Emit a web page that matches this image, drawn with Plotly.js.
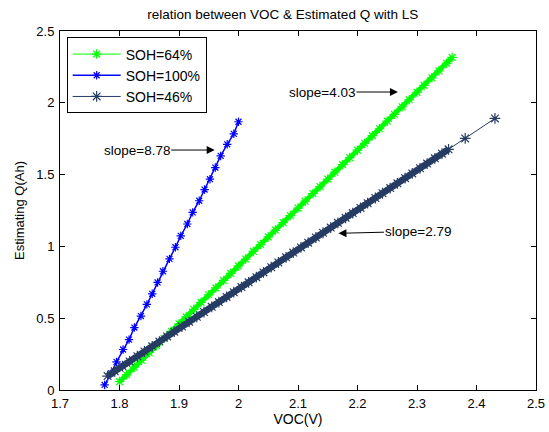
<!DOCTYPE html>
<html>
<head>
<meta charset="utf-8">
<script src="https://cdn.plot.ly/plotly-3.0.1.min.js"></script>
<style>html,body{margin:0;padding:0;background:#fff;}#chart{width:549px;height:432px;}</style>
</head>
<body>
<div id="chart"></div>
<script>
// SOH=64% (green)
const voc64 = [1.800,1.812,1.825,1.837,1.850,1.862,1.875,1.887,1.900,1.912,1.925,1.937,1.950,1.962,1.975,1.987,2.000,2.012,2.025,2.037,2.050,2.062,2.075,2.087,2.100,2.112,2.125,2.137,2.150,2.162,2.175,2.187,2.200,2.212,2.225,2.237,2.250,2.262,2.275,2.287,2.300,2.312,2.325,2.337,2.350,2.359];
const q64   = [0.058,0.106,0.159,0.207,0.260,0.308,0.360,0.409,0.461,0.509,0.562,0.610,0.663,0.711,0.763,0.812,0.864,0.912,0.965,1.013,1.066,1.114,1.166,1.215,1.267,1.315,1.368,1.416,1.469,1.517,1.569,1.618,1.670,1.718,1.771,1.819,1.872,1.920,1.972,2.021,2.073,2.121,2.174,2.222,2.275,2.316];
// SOH=100% (blue)
const voc100 = [1.775,1.786,1.795,1.806,1.816,1.825,1.836,1.846,1.855,1.864,1.873,1.884,1.894,1.903,1.914,1.923,1.934,1.943,1.952,1.961,1.970,1.981,1.992,2.000];
const q100   = [0.035,0.116,0.196,0.282,0.351,0.435,0.515,0.596,0.670,0.749,0.827,0.913,0.994,1.073,1.156,1.237,1.318,1.396,1.468,1.549,1.630,1.711,1.784,1.868];
// SOH=46% (dark navy)
const voc46 = [1.780,1.792,1.805,1.817,1.830,1.842,1.855,1.867,1.880,1.892,1.905,1.917,1.930,1.942,1.955,1.967,1.980,1.992,2.005,2.017,2.030,2.042,2.055,2.067,2.080,2.092,2.105,2.117,2.130,2.142,2.155,2.167,2.180,2.192,2.205,2.217,2.230,2.242,2.255,2.267,2.280,2.292,2.305,2.317,2.330,2.342,2.353,2.381,2.431];
const q46   = [0.097,0.130,0.166,0.199,0.235,0.268,0.304,0.337,0.373,0.406,0.442,0.475,0.510,0.543,0.579,0.612,0.648,0.681,0.717,0.750,0.786,0.819,0.855,0.888,0.924,0.957,0.993,1.026,1.062,1.095,1.131,1.164,1.199,1.232,1.268,1.301,1.337,1.370,1.406,1.439,1.475,1.508,1.544,1.577,1.613,1.646,1.676,1.752,1.891];
const denseCount46 = 47; // samples before the sparse tail
const names = ['SOH=64%','SOH=100%','SOH=46%'];
const xTicks = [1.7,1.8,1.9,2,2.1,2.2,2.3,2.4,2.5];
const xTickText = ['1.7','1.8','1.9','2','2.1','2.2','2.3','2.4','2.5'];
const yTicks = [0,0.5,1,1.5,2,2.5];
const yTickText = ['0','0.5','1','1.5','2','2.5'];

const FONT = 'Liberation Sans, Arial, sans-serif';
const GREEN = '#00ff00', BLUE = '#0000ff', NAVY = '#263c63';
function tr(x, y, name, color, size, lw) {
  return {x: x, y: y, name: name, type: 'scatter', mode: 'lines+markers',
    line: {color: color, width: lw},
    marker: {symbol: 'asterisk-open', size: size, color: color, line: {color: color, width: 1.2}}};
}
function band(x, y, color, w) {
  return {x: x, y: y, type: 'scatter', mode: 'lines', showlegend: false, hoverinfo: 'skip',
    line: {color: color, width: w}};
}
const data = [
  band(voc64, q64, GREEN, 5),
  tr(voc64, q64, names[0], GREEN, 8, 1),
  tr(voc100, q100, names[1], BLUE, 7, 1.5),
  band(voc46.slice(0, denseCount46), q46.slice(0, denseCount46), NAVY, 6.5),
  tr(voc46, q46, names[2], NAVY, 9, 1)
];
const axBase = {showline: true, linecolor: '#000', linewidth: 1, mirror: 'allticks', ticks: 'inside', ticklen: 5, tickcolor: '#000', showgrid: false, zeroline: false, tickfont: {family: FONT, size: 13, color: '#000'}};
const layout = {
  width: 549, height: 432,
  margin: {l: 60, r: 13, t: 31, b: 42},
  paper_bgcolor: '#fff', plot_bgcolor: '#fff',
  font: {family: FONT, color: '#000'},
  title: {text: 'relation between VOC & Estimated Q with LS', font: {family: FONT, size: 13.5, color: '#000'}, xref: 'container', x: 0.515, xanchor: 'center', yref: 'container', y: 0.968, yanchor: 'middle'},
  xaxis: Object.assign({}, axBase, {range: [1.7, 2.5], tickvals: xTicks, ticktext: xTickText, ticklabelstandoff: 1, title: {text: 'VOC(V)', font: {family: FONT, size: 14, color: '#000'}, standoff: 2}}),
  yaxis: Object.assign({}, axBase, {range: [0, 2.5], tickvals: yTicks, ticktext: yTickText, ticklabelstandoff: 2, title: {text: 'Estimating Q(Ah)', font: {family: FONT, size: 13, color: '#000'}, standoff: 8}}),
  showlegend: true,
  legend: {x: 0.014, y: 0.982, xanchor: 'left', yanchor: 'top', bgcolor: '#fff', bordercolor: '#000', borderwidth: 1, font: {family: FONT, size: 14, color: '#000'}, itemwidth: 48, tracegroupgap: 0},
  annotations: [
    {x: 1.960, y: 1.671, xref: 'x', yref: 'y', text: 'slope=8.78', showarrow: true, ax: -78, ay: 0, arrowhead: 2, arrowsize: 1.6, arrowwidth: 1, arrowcolor: '#000', font: {family: FONT, size: 13.5, color: '#000'}},
    {x: 2.268, y: 2.075, xref: 'x', yref: 'y', text: 'slope=4.03', showarrow: true, ax: -76, ay: 0, arrowhead: 2, arrowsize: 1.6, arrowwidth: 1, arrowcolor: '#000', font: {family: FONT, size: 13.5, color: '#000'}},
    {x: 2.168, y: 1.091, xref: 'x', yref: 'y', text: 'slope=2.79', showarrow: true, ax: 80, ay: -2, arrowhead: 2, arrowsize: 1.6, arrowwidth: 1, arrowcolor: '#000', font: {family: FONT, size: 13.5, color: '#000'}}
  ]
};
Plotly.newPlot('chart', data, layout, {displayModeBar: false, staticPlot: true});
</script>
</body>
</html>
